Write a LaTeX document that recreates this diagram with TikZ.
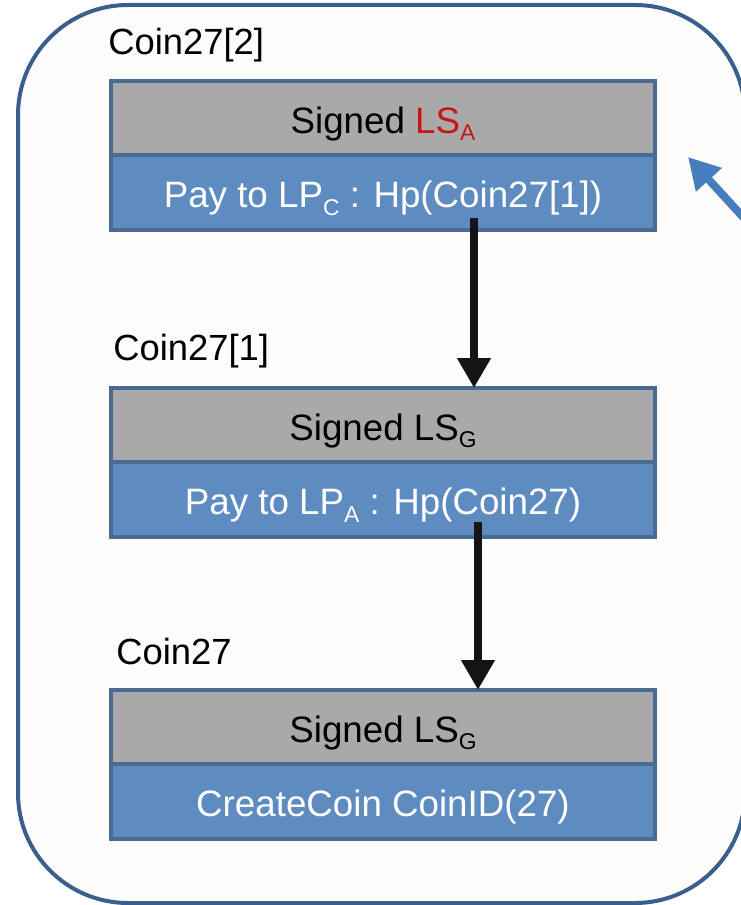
\documentclass[tikz,border=0pt]{standalone}
\usepackage{fontspec}
\setmainfont{Liberation Sans}
\usepackage{tikz}
\usetikzlibrary{arrows.meta, positioning, calc}
\definecolor{panelrim}{RGB}{58,95,140}
\definecolor{panelbg}{RGB}{252,252,250}
\definecolor{boxedge}{RGB}{74,106,146}
\definecolor{sigfill}{RGB}{169,169,169}
\definecolor{payfill}{RGB}{94,140,193}
\definecolor{backblue}{RGB}{72,125,189}
\definecolor{lsred}{RGB}{204,20,20}
\newcommand{\lowsub}[1]{\raisebox{-4.5pt}{\fontsize{13}{15}\selectfont #1}}
\tikzset{
  panel/.style={draw=panelrim, line width=0.08cm, fill=panelbg, rounded corners=2.2cm},
  sigbox/.style={draw=boxedge, line width=0.08cm, fill=sigfill, outer sep=0pt,
                 minimum width=10.88cm, minimum height=1.48cm, text=black,
                 text height=0.64cm, text depth=0.04cm,
                 font=\fontsize{20.9}{25}\selectfont},
  paybox/.style={draw=boxedge, line width=0.08cm, fill=payfill, outer sep=0pt,
                 minimum width=10.88cm, minimum height=1.5cm, text=white,
                 text height=0.64cm, text depth=0.04cm,
                 font=\fontsize{20.9}{25}\selectfont},
  tag/.style={inner sep=0pt, anchor=west, font=\fontsize{20.7}{25}\selectfont},
  flow/.style={-{Triangle[length=0.6cm, width=0.64cm]}, line width=0.16cm, draw=black!92},
  back/.style={-{Triangle[length=0.62cm, width=0.66cm]}, line width=0.16cm, draw=backblue},
}

\begin{document}
\begin{tikzpicture}
\useasboundingbox (0,0) rectangle (14.82,-18.1);
\draw[panel] (0.36,-0.1) rectangle (14.9,-18.06);

% coin 27[2]
\node[sigbox] (sig2) at (7.66,-2.36) {Signed \textcolor{lsred}{LS\lowsub{A}}};
\node[paybox, below=0pt of sig2] (pay2) {Pay to LP\lowsub{C} : Hp(Coin27[1])};
\node[tag] (lab2) at ([xshift=-0.06cm, yshift=0.72cm]sig2.north west) {Coin27[2]};

% coin 27[1]
\node[sigbox, below=3.16cm of pay2] (sig1) {Signed LS\lowsub{G}};
\node[paybox, below=0pt of sig1] (pay1) {Pay to LP\lowsub{A} : Hp(Coin27)};
\node[tag] (lab1) at ([xshift=0.04cm, yshift=0.74cm]sig1.north west) {Coin27[1]};

% coin 27
\node[sigbox, below=3.06cm of pay1] (sig0) {Signed LS\lowsub{G}};
\node[paybox, below=0pt of sig0] (pay0) {CreateCoin CoinID(27)};
\node[tag] (lab0) at ([xshift=0.1cm, yshift=0.78cm]sig0.north west) {Coin27};

\draw[flow] ([xshift=1.82cm, yshift=0.24cm]pay2.south) -- ([xshift=1.82cm]sig1.north);
\draw[flow] ([xshift=1.9cm, yshift=0.3cm]pay1.south) -- ([xshift=1.9cm]sig0.north);

\coordinate (ret) at (15.3,-4.82);
\draw[back] (ret) -- ([xshift=0.66cm, yshift=-0.04cm]pay2.north east);
\end{tikzpicture}
\end{document}
